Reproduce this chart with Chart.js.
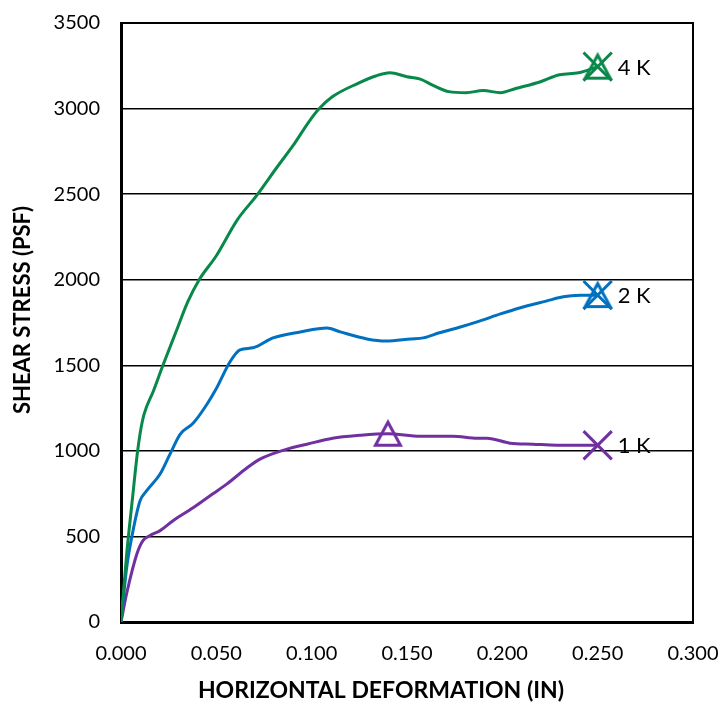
<!DOCTYPE html>
<html lang="en">
<head>
    <meta charset="UTF-8">
    <title>Shear Stress vs Horizontal Deformation</title>
    <script src="https://cdn.jsdelivr.net/npm/chart.js@4.4.1/dist/chart.umd.min.js"></script>
    <style>
        body { margin: 0; background: #fff; }
    </style>
</head>
<body>
    <canvas id="shearChart" width="722" height="707"></canvas>

    <script>
        // Data
        const seriesLabels = ['4 K', '2 K', '1 K'];

        const disp4k = [0, 0.003, 0.006, 0.0085, 0.010, 0.012, 0.017, 0.022, 0.029, 0.035, 0.041, 0.050, 0.061, 0.071, 0.082, 0.090, 0.099, 0.104, 0.111, 0.124, 0.134, 0.141, 0.150, 0.157, 0.164, 0.172, 0.181, 0.190, 0.199, 0.207, 0.220, 0.230, 0.240, 0.250];
        const stress4k = [0, 400, 720, 980, 1100, 1210, 1350, 1500, 1700, 1870, 2000, 2140, 2350, 2490, 2660, 2780, 2930, 3000, 3070, 3146, 3192, 3209, 3186, 3172, 3134, 3099, 3093, 3105, 3093, 3117, 3157, 3198, 3209, 3245];

        const disp2k = [0, 0.003, 0.006, 0.010, 0.0134, 0.0205, 0.0257, 0.031, 0.0378, 0.045, 0.050, 0.0572, 0.0624, 0.0692, 0.0797, 0.094, 0.108, 0.115, 0.129, 0.139, 0.152, 0.1585, 0.167, 0.178, 0.188, 0.199, 0.209, 0.223, 0.232, 0.241, 0.250];
        const stress2k = [0, 320, 516, 708, 766, 865, 981, 1097, 1161, 1271, 1364, 1521, 1590, 1602, 1660, 1695, 1718, 1695, 1654, 1642, 1654, 1660, 1690, 1724, 1758, 1800, 1835, 1875, 1900, 1909, 1910];

        const disp1k = [0, 0.003, 0.0084, 0.0115, 0.0152, 0.0205, 0.0273, 0.0378, 0.0482, 0.0556, 0.066, 0.0729, 0.087, 0.0975, 0.111, 0.1253, 0.140, 0.157, 0.1636, 0.174, 0.187, 0.192, 0.204, 0.216, 0.2286, 0.239, 0.250];
        const stress1k = [0, 168, 400, 476, 505, 534, 592, 667, 749, 807, 900, 952, 1010, 1039, 1074, 1091, 1100, 1085, 1085, 1085, 1074, 1074, 1045, 1039, 1033, 1033, 1033];

        // peak (triangle) and end (cross) points
        const peakDisp = [0.250, 0.250, 0.140];
        const peakStress = [3245, 1910, 1100];
        const endDisp = [0.250, 0.250, 0.250];
        const endStress = [3245, 1910, 1033];

        const xTicks = [0, 0.05, 0.10, 0.15, 0.20, 0.25, 0.30];
        const yTicks = [0, 500, 1000, 1500, 2000, 2500, 3000, 3500];

        const xTitle = 'HORIZONTAL DEFORMATION (IN)';
        const yTitle = 'SHEAR STRESS (PSF)';

        const colors = ['#08894A', '#0070C0', '#7030A0'];
        const fontFamily = 'Lato, "Open Sans", sans-serif';

        function toPoints(xs, ys) {
            return xs.map((x, i) => ({ x: x, y: ys[i] }));
        }

        // hollow triangle marker like Excel's
        function makeTriangle(color) {
            const c = document.createElement('canvas');
            c.width = 32; c.height = 32;
            const g = c.getContext('2d');
            g.strokeStyle = color;
            g.lineWidth = 3;
            g.lineJoin = 'miter';
            g.beginPath();
            g.moveTo(16, 4.5);
            g.lineTo(3.5, 27.5);
            g.lineTo(28.5, 27.5);
            g.closePath();
            g.stroke();
            return c;
        }

        const curves = [
            toPoints(disp4k, stress4k),
            toPoints(disp2k, stress2k),
            toPoints(disp1k, stress1k)
        ];

        const datasets = [];
        curves.forEach((pts, i) => {
            datasets.push({
                label: seriesLabels[i],
                data: pts,
                showLine: true,
                borderColor: colors[i],
                borderWidth: 3,
                pointRadius: 0,
                cubicInterpolationMode: 'monotone',
                order: 2
            });
        });
        seriesLabels.forEach((lab, i) => {
            datasets.push({
                label: lab + ' markers',
                data: [
                    { x: peakDisp[i], y: peakStress[i] },
                    { x: endDisp[i], y: endStress[i] }
                ],
                showLine: false,
                pointStyle: [makeTriangle(colors[i]), 'crossRot'],
                pointRadius: 20,
                pointBorderWidth: 3,
                pointBorderColor: colors[i],
                pointBackgroundColor: 'transparent',
                order: 1
            });
        });

        // top/right frame, end labels and axis titles
        const framePlugin = {
            id: 'frame',
            beforeDatasetsDraw(chart) {
                const { ctx, chartArea: a } = chart;
                ctx.save();
                ctx.strokeStyle = '#000';
                ctx.lineWidth = 2;
                ctx.beginPath();
                ctx.moveTo(a.left, a.top);
                ctx.lineTo(a.right, a.top);
                ctx.lineTo(a.right, a.bottom);
                ctx.stroke();
                ctx.restore();
            },
            afterDatasetsDraw(chart) {
                const { ctx, scales } = chart;
                ctx.save();
                ctx.fillStyle = '#000';
                ctx.font = '22px ' + fontFamily;
                ctx.textBaseline = 'middle';
                ctx.textAlign = 'left';
                seriesLabels.forEach((lab, i) => {
                    const px = scales.x.getPixelForValue(endDisp[i]);
                    const py = scales.y.getPixelForValue(endStress[i]);
                    ctx.fillText(lab, px + 20, py + 1);
                });

                // axis titles (Excel puts them a bit off the plot centre)
                ctx.textAlign = 'center';
                ctx.font = 'bold 23px ' + fontFamily;
                ctx.fillText(xTitle, 381, 691);
                ctx.translate(23, 310);
                ctx.rotate(-Math.PI / 2);
                ctx.font = 'bold 22px ' + fontFamily;
                ctx.fillText(yTitle, 0, 0);
                ctx.restore();
            }
        };

        new Chart(document.getElementById('shearChart'), {
            type: 'scatter',
            data: { datasets: datasets },
            plugins: [framePlugin],
            options: {
                responsive: false,
                animation: false,
                layout: { padding: { left: 0, right: 29, top: 19, bottom: 0 } },
                plugins: {
                    legend: { display: false },
                    tooltip: { enabled: false }
                },
                scales: {
                    x: {
                        type: 'linear',
                        min: 0,
                        max: 0.3,
                        afterFit(scale) {
                            scale.height = 85;
                            scale.paddingLeft = 0;
                            scale.paddingRight = 0;
                        },
                        afterBuildTicks(scale) { scale.ticks = xTicks.map(v => ({ value: v })); },
                        ticks: {
                            padding: 20,
                            color: '#000',
                            font: { family: fontFamily, size: 20, lineHeight: 1.2 },
                            callback: v => Number(v).toFixed(3)
                        },
                        grid: { display: false, drawTicks: false },
                        border: { color: '#000', width: 3 }
                    },
                    y: {
                        type: 'linear',
                        min: 0,
                        max: 3500,
                        afterFit(scale) {
                            scale.width = 121;
                            scale.paddingTop = 0;
                            scale.paddingBottom = 0;
                        },
                        afterBuildTicks(scale) { scale.ticks = yTicks.map(v => ({ value: v })); },
                        ticks: {
                            padding: 21,
                            color: '#000',
                            font: { family: fontFamily, size: 20, lineHeight: 1.2 },
                            callback: v => String(v)
                        },
                        grid: { color: '#000', lineWidth: 1.5, drawTicks: false },
                        border: { color: '#000', width: 3 }
                    }
                }
            }
        });
    </script>
</body>
</html>
